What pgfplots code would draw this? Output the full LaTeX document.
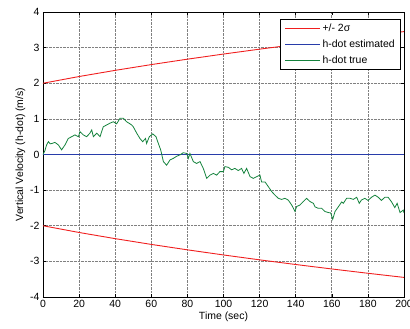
\documentclass[border=0pt]{standalone}
\usepackage{pgfplots}
\pgfplotsset{compat=1.18}
\usepackage{fontspec}
\setmainfont{Liberation Sans}
\definecolor{mred}{RGB}{240,30,30}
\definecolor{mblue}{RGB}{40,60,170}
\definecolor{mgreen}{RGB}{20,130,60}
\begin{document}
\begin{tikzpicture}
\begin{axis}[
  at={(0,0)}, anchor=south west,
  scale only axis, width=361bp, height=285bp,
  xmin=0, xmax=200, ymin=-4, ymax=4,
  xtick={0,20,...,200}, ytick={-4,-3,...,4},
  xticklabels={0,20,40,60,80,100,120,140,160,180,200},
  yticklabels={-4,-3,-2,-1,0,1,2,3,4},
  tick align=inside, tick pos=both,
  major tick length=3bp,
  grid=major,
  grid style={black!50, line width=0.7pt, dash pattern=on 0.7pt off 0.7pt},
  axis line style={black, line width=0.7pt},
  tick style={black, line width=0.6pt},
  ticklabel style={font=\fontsize{10.5}{12}\selectfont},
  xlabel={Time (sec)}, ylabel={Vertical Velocity (h-dot) (m/s)},
  label style={font=\fontsize{10.5}{12}\selectfont},
  xlabel style={yshift=3bp},
  ylabel style={yshift=-2bp},
  legend style={at={(1,1)}, anchor=north east, xshift=-3bp, yshift=-7bp,
    draw=black, line width=0.7pt, font=\fontsize{10.5}{12}\selectfont,
    row sep=2.5pt, inner xsep=4pt, inner ysep=3pt},
  legend cell align=left,
  legend image code/.code={\draw[#1, line width=0.8pt] (0bp,0bp) -- (35bp,0bp);},
]
\addplot[mred, line width=0.9pt] coordinates {
(0,2) (20,2.189) (40,2.362) (60,2.524) (80,2.676) (100,2.820) (120,2.957) (140,3.088) (160,3.213) (180,3.334) (200,3.450)};
\addlegendentry{+/- 2σ}
\addplot[mblue, line width=0.8pt] coordinates {(0,0) (200,0)};
\addlegendentry{h-dot estimated}
\addplot[mgreen, line width=0.8pt] coordinates {
(0,0.0) (1,0.1) (2,0.27) (3,0.36) (4,0.3) (5,0.31) (6.6,0.34) (8.5,0.27) (10.3,0.13) (12.2,0.27) (14,0.45) (15.9,0.5) (17.7,0.55) (19.6,0.5) (20.5,0.64) (22.3,0.55) (24.2,0.5) (26,0.6) (27,0.69) (27.9,0.5) (29.8,0.6) (31.6,0.5) (33.4,0.78) (35.3,0.83) (37.1,0.88) (39,0.92) (40.8,0.86) (42.7,1.02) (44.5,1.02) (46.3,0.92) (47.6,0.88) (49.1,0.83) (50,0.78) (51.9,0.6) (53.7,0.45) (55.2,0.36) (56.8,0.45) (57.4,0.31) (58.9,0.5) (60.8,0.58) (62.6,0.5) (63.9,0.31) (65.2,0.13) (66.7,-0.2) (68.5,-0.3) (70.4,-0.15) (72.2,-0.11) (74,-0.05) (75.9,-0.01) (77.7,0.05) (79.6,0.03) (80.5,-0.11) (81.4,0.03) (83.3,-0.2) (85.1,-0.25) (87,-0.2) (88.8,-0.39) (90.7,-0.67) (92.5,-0.58) (94.4,-0.53) (96.2,-0.58) (98,-0.48) (99.9,-0.48) (100.8,-0.34) (102.7,-0.36) (104.5,-0.43) (106.3,-0.39) (108.2,-0.45) (110,-0.39) (111.3,-0.53) (112.8,-0.39) (114.7,-0.62) (116.5,-0.67) (118.4,-0.62) (120.2,-0.58) (121.1,-0.77) (123,-0.77) (124.8,-0.9) (126.7,-1.04) (128.5,-1.14) (130.4,-1.23) (132.2,-1.26) (134,-1.23) (135.9,-1.28) (137.8,-1.42) (139.6,-1.6) (140.5,-1.46) (142.3,-1.42) (144.2,-1.32) (146,-1.23) (147.9,-1.32) (149.8,-1.37) (150.7,-1.47) (152.5,-1.51) (154.4,-1.51) (156.2,-1.6) (158.1,-1.63) (159.4,-1.64) (160.5,-1.82) (161.8,-1.6) (163.6,-1.47) (165.5,-1.33) (166.4,-1.37) (168.2,-1.23) (170.1,-1.23) (171.9,-1.26) (173.8,-1.2) (175.2,-1.37) (176.4,-1.28) (178.3,-1.23) (180.1,-1.29) (182,-1.2) (183.9,-1.14) (185.7,-1.2) (187.5,-1.29) (189.4,-1.2) (191.2,-1.2) (193.1,-1.33) (194.9,-1.49) (196.2,-1.37) (197.8,-1.63) (199.6,-1.56) (200,-1.64)};
\addlegendentry{h-dot true}
\addplot[mred, line width=0.9pt, forget plot] coordinates {
(0,-2) (20,-2.189) (40,-2.362) (60,-2.524) (80,-2.676) (100,-2.820) (120,-2.957) (140,-3.088) (160,-3.213) (180,-3.334) (200,-3.450)};
\end{axis}
\pgfresetboundingbox
\path[use as bounding box] (-43bp,-32bp) rectangle (367bp,297bp);
\end{tikzpicture}
\end{document}
